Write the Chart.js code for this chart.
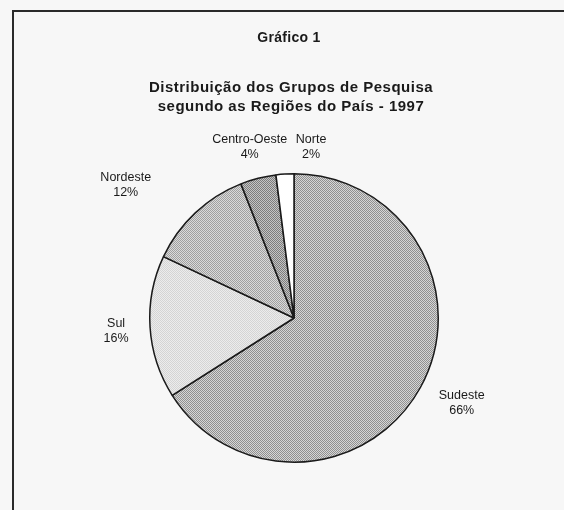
<!DOCTYPE html>
<html>
<head>
<meta charset="utf-8">
<script src="https://cdn.jsdelivr.net/npm/chart.js@4.4.1/dist/chart.umd.min.js"></script>
<style>
  html, body { margin: 0; padding: 0; background: #f7f7f7; }
  #wrap { width: 564px; height: 510px; position: relative; }
</style>
</head>
<body>
<div id="wrap"><canvas id="grafico"></canvas></div>
<script>
const regioes = ['Sudeste', 'Sul', 'Nordeste', 'Centro-Oeste', 'Norte'];
const percentuais = [66, 16, 12, 4, 2];
const rotulosPct = ['66%', '16%', '12%', '4%', '2%'];

// checker patterns to imitate the printed screens
function trama(c1, c2) {
    const cv = document.createElement('canvas');
    cv.width = 2; cv.height = 2;
    const g = cv.getContext('2d');
    g.fillStyle = c1; g.fillRect(0, 0, 2, 2);
    g.fillStyle = c2; g.fillRect(0, 0, 1, 1); g.fillRect(1, 1, 1, 1);
    return g.createPattern(cv, 'repeat');
}

const fundos = [
    trama('#d6d6d6', '#909090'),
    trama('#ececec', '#d4d4d4'),
    trama('#dadada', '#a0a0a0'),
    trama('#c4c4c4', '#7c7c7c'),
    '#ffffff'
];

// nudges for the labels, in pixels
const ajustes = [[15, 1], [-4, 2], [-49, -6], [-1, -2], [28, 3]];

const molduraETextos = {
    id: 'molduraETextos',
    beforeDraw(chart) {
        const c = chart.ctx;
        c.save();
        c.fillStyle = '#f7f7f7';
        c.fillRect(0, 0, chart.width, chart.height);
        c.strokeStyle = '#2a2a2a';
        c.lineWidth = 2;
        c.beginPath();
        c.moveTo(13, chart.height);
        c.lineTo(13, 11);
        c.lineTo(chart.width, 11);
        c.stroke();
        c.fillStyle = '#1a1a1a';
        c.textAlign = 'center';
        c.textBaseline = 'middle';
        c.letterSpacing = '0.3px';
        c.font = 'bold 14px "Liberation Sans", Arial, sans-serif';
        c.fillText('Gráfico 1', 289, 38);
        c.letterSpacing = '0.5px';
        c.font = 'bold 15px "Liberation Sans", Arial, sans-serif';
        c.fillText('Distribuição dos Grupos de Pesquisa', 291, 88);
        c.fillText('segundo as Regiões do País - 1997', 291, 107);
        c.restore();
    },
    afterDraw(chart) {
        const c = chart.ctx;
        const arcs = chart.getDatasetMeta(0).data;
        c.save();
        c.fillStyle = '#1a1a1a';
        c.textAlign = 'center';
        c.textBaseline = 'middle';
        c.font = '12.5px "Liberation Sans", Arial, sans-serif';
        arcs.forEach((a, i) => {
            const meio = (a.startAngle + a.endAngle) / 2;
            const r = a.outerRadius + 30;
            const x = a.x + Math.cos(meio) * r + ajustes[i][0];
            const y = a.y + Math.sin(meio) * r + ajustes[i][1];
            c.fillText(regioes[i], x, y - 7.5);
            c.fillText(rotulosPct[i], x, y + 7.5);
        });
        c.restore();
    }
};

new Chart(document.getElementById('grafico'), {
    type: 'pie',
    data: {
        labels: regioes,
        datasets: [{
            data: percentuais,
            backgroundColor: fundos,
            borderColor: '#1a1a1a',
            borderWidth: 1.5
        }]
    },
    options: {
        responsive: true,
        maintainAspectRatio: false,
        animation: false,
        layout: { padding: { top: 173, bottom: 47, left: 149, right: 125 } },
        plugins: {
            legend: { display: false },
            tooltip: { enabled: false }
        }
    },
    plugins: [molduraETextos]
});
</script>
</body>
</html>
